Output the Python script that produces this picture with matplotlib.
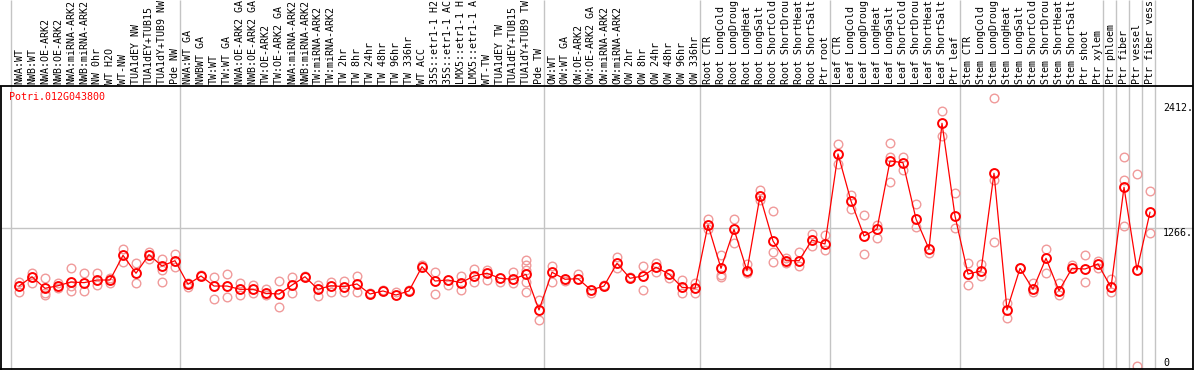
import matplotlib
matplotlib.use("Agg")
import matplotlib.pyplot as plt

# ---------------- data ----------------
gene_id = "Potri.012G043800"

labels = [
    "NWA:WT", "NWB:WT", "NWA:OE-ARK2", "NWB:OE-ARK2", "NWA:miRNA-ARK2", "NWB:miRNA-ARK2",
    "NW 0hr", "WT H2O", "WT-NW", "TUA1dEY NW", "TUA1dEY+TUB15", "TUA1dY+TUB9 NW", "Pde NW",
    "NWA:WT GA", "NWBWT GA", "TW:WT", "TW:WT GA", "NWA:OE-ARK2 GA", "NWB:OE-ARK2 GA",
    "TW:OE-ARK2", "TW:OE-ARK2 GA", "NWA:miRNA-ARK2", "NWB:miRNA-ARK2", "TW:miRNA-ARK2",
    "TW:miRNA-ARK2", "TW 2hr", "TW 8hr", "TW 24hr", "TW 48hr", "TW 96hr", "TW 336hr",
    "WT ACC", "35S::etr1-1 H2", "35S::etr1-1 AC", "LMX5::etr1-1 H", "LMX5::etr1-1 A",
    "WT-TW", "TUA1dEY TW", "TUA1dEY+TUB15", "TUA1dY+TUB9 TW", "Pde TW",
    "OW:WT", "OW:WT GA", "OW:OE-ARK2", "OW:OE-ARK2 GA", "OW:miRNA-ARK2", "OW:miRNA-ARK2",
    "OW 2hr", "OW 8hr", "OW 24hr", "OW 48hr", "OW 96hr", "OW 336hr",
    "Root CTR", "Root LongCold", "Root LongDroug", "Root LongHeat", "Root LongSalt",
    "Root ShortCold", "Root ShortDrou", "Root ShortHeat", "Root ShortSalt", "Ptr root",
    "Leaf CTR", "Leaf LongCold", "Leaf LongDroug", "Leaf LongHeat", "Leaf LongSalt",
    "Leaf ShortCold", "Leaf ShortDrou", "Leaf ShortHeat", "Leaf ShortSalt", "Ptr leaf",
    "Stem CTR", "Stem LongCold", "Stem LongDroug", "Stem LongHeat", "Stem LongSalt",
    "Stem ShortCold", "Stem ShortDrou", "Stem ShortHeat", "Stem ShortSalt", "Ptr shoot",
    "Ptr xylem", "Ptr phloem", "Ptr fiber", "Ptr vessel", "Ptr fiber vess",
]

# first index of each sample group (plus end)
group_starts = [0, 13, 41, 53, 63, 73, 84, 85, 86, 87, 88]

mean_values = [
    732, 817, 711, 735, 769, 763, 787, 787, 1013, 849, 1019, 915, 964,
    748, 824, 732, 732, 702, 702, 665, 659, 741, 817, 702, 735, 726, 751, 659, 687,
    650, 687, 909, 778, 787, 763, 824, 849, 803, 794, 839, 513,
    858, 794, 799, 696, 732, 940, 803, 824, 904, 842, 720, 711,
    1291, 894, 1251, 872, 1556, 1144, 964, 964, 1153, 1117,
    1941, 1510, 1190, 1254, 1877, 1861, 1346, 1071, 2222, 1373,
    842, 870, 1764, 513, 894, 702, 986, 689, 894, 888, 934,
    720, 1636, 879, 1407,
]

rep_values = [
    [772, 680], [854, 757], [803, 665, 650], [763, 711], [894, 732, 687],
    [849, 687], [854, 741], [763, 803], [1071, 949], [940, 757],
    [1041, 977], [977, 879, 766], [1025, 909],
    [757, 726], [833], [812, 611], [842, 629], [757, 650], [741, 671],
    [702, 650], [778, 537], [817, 671], [824], [741, 641], [772, 680],
    [781, 680], [824, 680], [671], [696], [680], [696], [925], [858, 659],
    [741], [824, 696], [885, 772], [879, 787], [772], [863, 757],
    [970, 925, 879, 772, 680], [604, 421],
    [915, 766], [778], [842], [671], [741], [995, 894], [812], [915, 696],
    [946, 863], [803], [787, 665], [757, 671],
    [1346, 1251], [1016, 833, 812], [1343, 1129], [934, 849], [1611, 1520],
    [1419, 1041, 955], [991, 940], [1041, 918], [1208, 1101], [1199, 1062],
    [2032, 1849], [1565, 1434], [1380, 1025], [1291, 1169], [2039, 1910, 1682],
    [1916, 1794], [1480, 1275], [1037], [2334, 2108], [1581, 1261],
    [946, 741], [934, 824], [2451, 1703, 1132], [579, 437], [900], [757, 680],
    [1068, 849], [763, 650], [925], [1016, 766], [964, 894],
    [796, 680], [1910, 1703, 1282], [1755, 0], [1602, 1215],
]

scale_ticks = [0, 1266, 2412]
reference_level = 1266

# ---------------- layout helpers (pixel -> data) ----------------
W, H = 1194, 370
X0, DX = 19.0, 13.0          # pixel x of first sample, spacing
Y0, DY = 366.0, 0.10924      # pixel y of value 0, pixels per unit


def px(xp):
    return (xp - X0) / DX


def py(yp):
    return (Y0 - yp) / DY


mono = "DejaVu Sans Mono"
fs = 7.2

fig = plt.figure(figsize=(W / 100, H / 100), dpi=100)
ax = fig.add_axes([0, 0, 1, 1])
ax.set_xlim(px(0), px(W))
ax.set_ylim(py(H), py(0))
ax.axis("off")

# group separators
for s in group_starts:
    ax.plot([s - 0.62, s - 0.62], [py(0), py(H)], color="#c4c4c4", lw=1.0, zorder=1,
            solid_capstyle="butt")

# reference horizontal line
ax.plot([px(2), px(1192)], [reference_level, reference_level], color="#c4c4c4",
        lw=1.0, zorder=1)

# frame lines
k = dict(color="black", lw=1.3, zorder=6, solid_capstyle="butt")
ax.plot([px(0), px(1192.5)], [py(86), py(86)], **k)
ax.plot([px(1.5), px(1.5)], [py(86), py(H)], **k)
ax.plot([px(1192.5), px(1192.5)], [py(0), py(H)], **k)
ax.plot([px(0), px(1192.5)], [py(369), py(369)], **k)

xs = list(range(len(labels)))

# replicates
for i, reps in enumerate(rep_values):
    ax.plot([i] * len(reps), reps, linestyle="none", marker="o", ms=6.2,
            mfc="none", mec="#f09a9a", mew=1.0, zorder=2, clip_on=False)

# mean line + markers
ax.plot(xs, mean_values, color="red", lw=0.9, zorder=3)
ax.plot(xs, mean_values, linestyle="none", marker="o", ms=6.4, mfc="none",
        mec="red", mew=1.4, zorder=4)

# sample labels (vertical)
for i, lab in enumerate(labels):
    ax.text(i, py(84.5), lab, rotation=90, ha="center", va="bottom",
            family=mono, fontsize=fs, color="black", zorder=7)

# gene id
ax.text(px(9), py(97), gene_id, ha="left", va="center", family=mono,
        fontsize=fs, color="red", zorder=7)

# scale labels
ax.text(px(1163), scale_ticks[2], f"{scale_ticks[2]}.", ha="left", va="top",
        family=mono, fontsize=fs, color="black")
ax.text(px(1163), scale_ticks[1], f"{scale_ticks[1]}.", ha="left", va="top",
        family=mono, fontsize=fs, color="black")
ax.text(px(1163), scale_ticks[0], f"{scale_ticks[0]}", ha="left", va="baseline",
        family=mono, fontsize=fs, color="black")

fig.savefig("out.png", dpi=100)
